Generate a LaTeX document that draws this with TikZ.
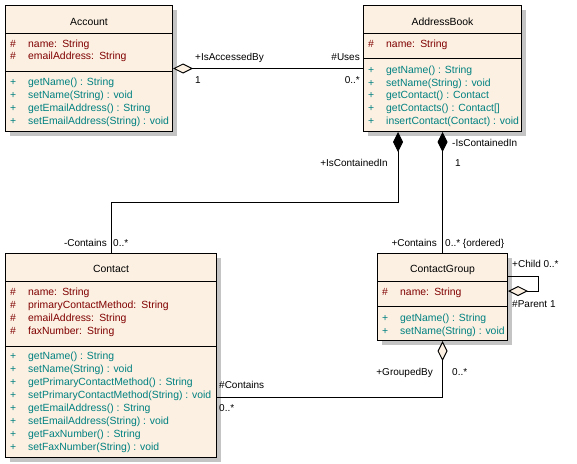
\documentclass[tikz,border=0pt]{standalone}
\usepackage{fontspec}
\setmainfont{Liberation Sans}
\usetikzlibrary{arrows.meta,shadows}
\definecolor{cream}{HTML}{FBF0E2}
\definecolor{attrred}{HTML}{800000}
\definecolor{mteal}{HTML}{008080}
\definecolor{shadowgray}{HTML}{C4C4C4}
\newcommand{\umlrow}[2]{\makebox[18pt][l]{#1}#2}
\begin{document}
\begin{tikzpicture}[x=1pt,y=-1pt,
  font=\fontsize{10}{12}\selectfont,
  classbox/.style={draw=black, line width=1pt, fill=cream,
    drop shadow={shadow xshift=4pt, shadow yshift=-4pt, fill=shadowgray, opacity=1},
    inner sep=0pt, anchor=north west},
  txt/.style={inner sep=0pt, anchor=base west, font=\fontsize{10.4}{12}\selectfont},
  attr/.style={txt, text=attrred},
  meth/.style={txt, text=mteal},
  ctitle/.style={inner sep=0pt, anchor=base, font=\fontsize{10.4}{12}\selectfont},
  divider/.style={draw=black, line width=1pt},
  lbl/.style={inner sep=0pt},
  aggr/.style={draw, line width=1pt, {Diamond[open, fill=cream, length=20pt, width=10pt]}-},
  comp/.style={draw, line width=1pt, {Diamond[length=20pt, width=10pt]}-}]
\useasboundingbox (0,0) rectangle (577,463);
\fill[white] (0,0) rectangle (577,463);

% ---------- Account ----------
\node[classbox, minimum width=167pt, minimum height=126pt] (account) at (5,5) {};
\node[ctitle] (account-t) at ([yshift=-20pt]account.north) {Account};
\draw[divider] ([yshift=-28pt]account.north west) -- ([yshift=-28pt]account.north east);
\draw[divider] ([yshift=-66pt]account.north west) -- ([yshift=-66pt]account.north east);
\node[attr] (acc-a1) at (10,47) {\umlrow{\#}{name:\enspace String}};
\node[attr] (acc-a2) at (10,59) {\umlrow{\#}{emailAddress:\enspace String}};
\node[meth] (acc-m1) at (10,85) {\umlrow{+}{getName() : String}};
\node[meth] (acc-m2) at (10,98) {\umlrow{+}{setName(String) : void}};
\node[meth] (acc-m3) at (10,111.5) {\umlrow{+}{getEmailAddress() : String}};
\node[meth] (acc-m4) at (10,124.5) {\umlrow{+}{setEmailAddress(String) : void}};

% ---------- AddressBook ----------
\node[classbox, minimum width=158pt, minimum height=126pt] (addressbook) at (363,5) {};
\node[ctitle] (ab-t) at ([yshift=-20pt]addressbook.north) {AddressBook};
\draw[divider] ([yshift=-28pt]addressbook.north west) -- ([yshift=-28pt]addressbook.north east);
\draw[divider] ([yshift=-53pt]addressbook.north west) -- ([yshift=-53pt]addressbook.north east);
\node[attr] (ab-a1) at (368,47) {\umlrow{\#}{name:\enspace String}};
\node[meth] (ab-m1) at (368,73) {\umlrow{+}{getName() : String}};
\node[meth] (ab-m2) at (368,86) {\umlrow{+}{setName(String) : void}};
\node[meth] (ab-m3) at (368,98.5) {\umlrow{+}{getContact() : Contact}};
\node[meth] (ab-m4) at (368,111) {\umlrow{+}{getContacts() : Contact[]}};
\node[meth] (ab-m5) at (368,124) {\umlrow{+}{insertContact(Contact) : void}};

% ---------- Contact ----------
\node[classbox, minimum width=211pt, minimum height=204pt] (contact) at (5,253) {};
\node[ctitle] (ct-t) at ([yshift=-19pt]contact.north) {Contact};
\draw[divider] ([yshift=-28pt]contact.north west) -- ([yshift=-28pt]contact.north east);
\draw[divider] ([yshift=-93pt]contact.north west) -- ([yshift=-93pt]contact.north east);
\node[attr] (ct-a1) at (10,295) {\umlrow{\#}{name:\enspace String}};
\node[attr] (ct-a2) at (10,308) {\umlrow{\#}{primaryContactMethod:\enspace String}};
\node[attr] (ct-a3) at (10,321) {\umlrow{\#}{emailAddress:\enspace String}};
\node[attr] (ct-a4) at (10,334) {\umlrow{\#}{faxNumber:\enspace String}};
\node[meth] (ct-m1) at (10,359) {\umlrow{+}{getName() : String}};
\node[meth] (ct-m2) at (10,372) {\umlrow{+}{setName(String) : void}};
\node[meth] (ct-m3) at (10,385) {\umlrow{+}{getPrimaryContactMethod() : String}};
\node[meth] (ct-m4) at (10,398) {\umlrow{+}{setPrimaryContactMethod(String) : void}};
\node[meth] (ct-m5) at (10,411) {\umlrow{+}{getEmailAddress() : String}};
\node[meth] (ct-m6) at (10,424) {\umlrow{+}{setEmailAddress(String) : void}};
\node[meth] (ct-m7) at (10,437) {\umlrow{+}{getFaxNumber() : String}};
\node[meth] (ct-m8) at (10,450) {\umlrow{+}{setFaxNumber(String) : void}};

% ---------- ContactGroup ----------
\node[classbox, minimum width=130pt, minimum height=87pt] (contactgroup) at (377,253) {};
\node[ctitle] (cg-t) at ([yshift=-19pt]contactgroup.north) {ContactGroup};
\draw[divider] ([yshift=-28pt]contactgroup.north west) -- ([yshift=-28pt]contactgroup.north east);
\draw[divider] ([yshift=-53pt]contactgroup.north west) -- ([yshift=-53pt]contactgroup.north east);
\node[attr] (cg-a1) at (382,295) {\umlrow{\#}{name:\enspace String}};
\node[meth] (cg-m1) at (382,321) {\umlrow{+}{getName() : String}};
\node[meth] (cg-m2) at (382,334) {\umlrow{+}{setName(String) : void}};

% ---------- Connectors ----------
\draw[aggr] (account.east) -- (addressbook.west);
\draw[comp] ([xshift=35pt]addressbook.south west) -- ++(0,70) -| (contact.north);
\draw[comp] (addressbook.south) -- (contactgroup.north);
\draw[aggr] ([yshift=-38pt]contactgroup.north east) -- ++(30,0) |- ([yshift=-23pt]contactgroup.north east);
\draw[aggr] (contactgroup.south) |- ([yshift=-42pt]contact.east);

% ---------- Labels ----------
\node[lbl, anchor=base west] (l1) at (195,60) {+IsAccessedBy};
\node[lbl, anchor=base west] (l2) at (195,83) {1};
\node[lbl, anchor=base east] (l3) at (360,60) {\#Uses};
\node[lbl, anchor=base east] (l4) at (360,83) {0..*};
\node[lbl, anchor=base east] (l5) at (388,166) {+IsContainedIn};
\node[lbl, anchor=base west] (l6) at (452,146) {-IsContainedIn};
\node[lbl, anchor=base west] (l7) at (455,166) {1};
\node[lbl, anchor=base east] (l8) at (437,246) {+Contains};
\node[lbl, anchor=base west] (l9) at (445,246) {0..* \{ordered\}};
\node[lbl, anchor=base east] (l10) at (107,246) {-Contains};
\node[lbl, anchor=base west] (l11) at (113,246) {0..*};
\node[lbl, anchor=base west] (l12) at (512,267) {+Child 0..*};
\node[lbl, anchor=base west] (l13) at (512,307) {\#Parent 1};
\node[lbl, anchor=base east] (l14) at (433,375) {+GroupedBy};
\node[lbl, anchor=base west] (l15) at (452,375) {0..*};
\node[lbl, anchor=base west] (l16) at (219,388) {\#Contains};
\node[lbl, anchor=base west] (l17) at (219,411) {0..*};
\end{tikzpicture}
\end{document}
